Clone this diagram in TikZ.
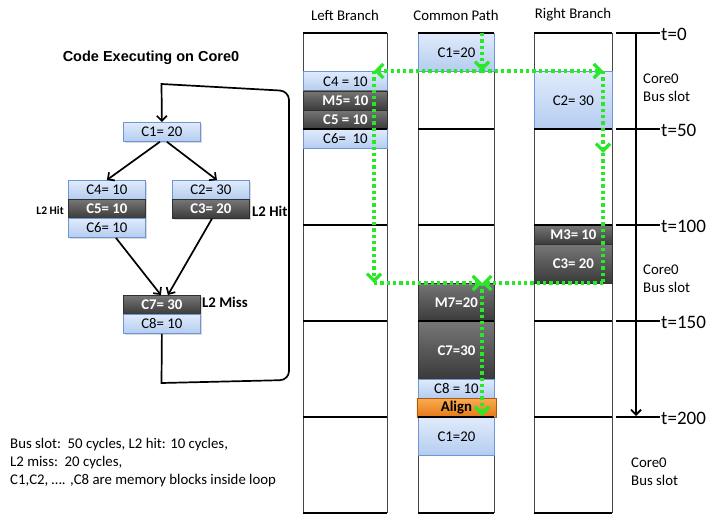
\documentclass[tikz,border=0pt]{standalone}
\usepackage{fontspec}
\setmainfont{Carlito}
\newfontfamily\titlefont{Liberation Sans}
\usetikzlibrary{arrows.meta,calc,shadows}

\definecolor{blkTop}{RGB}{224,235,251}
\definecolor{blkBot}{RGB}{180,204,240}
\definecolor{blkEdge}{RGB}{110,150,212}
\definecolor{dkTop}{RGB}{118,118,118}
\definecolor{dkBot}{RGB}{58,58,58}
\definecolor{dkEdge}{RGB}{48,48,48}
\definecolor{orTop}{RGB}{250,172,82}
\definecolor{orBot}{RGB}{228,120,22}
\definecolor{orEdge}{RGB}{170,90,10}
\definecolor{pathgreen}{RGB}{40,232,40}
\definecolor{colline}{RGB}{70,70,70}

\begin{document}
\begin{tikzpicture}[x=1pt,y=-1pt,
  font=\fontsize{14.8}{18}\selectfont,
  blk/.style={rectangle, inner sep=0pt, anchor=north west, minimum height=19.2pt,
    draw=blkEdge, line width=0.8pt, top color=blkTop, bottom color=blkBot},
  dk/.style={blk, draw=dkEdge, top color=dkTop, bottom color=dkBot, text=white,
    font=\fontsize{14.8}{18}\selectfont\bfseries},
  orng/.style={blk, draw=orEdge, top color=orTop, bottom color=orBot,
    font=\fontsize{14.8}{18}\selectfont\bfseries},
  boxshadow/.style={drop shadow={shadow xshift=1.2pt, shadow yshift=-1.5pt, opacity=0.3}},
  cfg/.style={blk, minimum width=77pt, minimum height=19pt, boxshadow},
  cfgdk/.style={dk, minimum width=77pt, minimum height=19pt, boxshadow},
  colside/.style={draw=colline, line width=0.8pt},
  slotline/.style={draw=black, line width=2.6pt},
  flow/.style={draw=black, line width=1.7pt, -{Straight Barb[length=5pt,width=10pt]}},
  gpath/.style={draw=pathgreen, line width=3.3pt, dash pattern=on 3.3pt off 3pt},
  garrow/.style={gpath, -{Straight Barb[length=7pt,width=14pt]}},
  lbl/.style={inner sep=0pt},
]
\useasboundingbox (0,0) rectangle (710,516);

% ---------------- control-flow graph of the loop ----------------
\node[lbl, font=\titlefont\fontsize{14.5}{18}\selectfont\bfseries] (title) at (151,58) {Code Executing on Core0};

\node[cfg]   (g1) at (123,122) {C1= 20};
\node[cfg]   (g4) at (68,180)  {C4= 10};
\node[cfgdk] (g5) at (68,199)  {C5= 10};
\node[cfg]   (g6) at (68,218)  {C6= 10};
\node[cfg]   (g2) at (172,180) {C2= 30};
\node[cfgdk] (g3) at (172,199) {C3= 20};
\node[cfgdk] (g7) at (123,295) {C7= 30};
\node[cfg]   (g8) at (123,314) {C8= 10};

\node[lbl, anchor=east, font=\fontsize{11.5}{14}\selectfont\bfseries] (hitL) at (64,211) {L2 Hit};
\node[lbl, anchor=west, font=\fontsize{14.8}{18}\selectfont\bfseries] (hitR) at (252,211) {L2 Hit};
\node[lbl, anchor=west, font=\fontsize{14.8}{18}\selectfont\bfseries] (miss) at (202,302) {L2 Miss};

\draw[flow] ($(g1.south)+(-2,0)$) -- (g4.north);
\draw[flow] ($(g1.south)+(5,0)$) -- ($(g2.north)+(6,0)$);
\draw[flow] ($(g6.south)+(9,0)$) -- ($(g7.north)+(-1,0)$);
\draw[flow] ($(g3.south)+(1,0)$) -- ($(g7.north)+(6,0)$);

% loop back edge
\coordinate (loopA) at (161.5,383);
\coordinate (loopB) at (289,380);
\coordinate (loopC) at (289,91);
\coordinate (loopD) at (161.5,84);
\draw[flow] (g8.south) -- (loopA) [rounded corners=9pt] -- (loopB) -- (loopC) [sharp corners] -- (loopD) -- (g1.north);

% ---------------- bus-slot columns ----------------
\node[lbl] (hLeft)  at (345,15) {Left Branch};
\node[lbl] (hCom)   at (456,15) {Common Path};
\node[lbl] (hRight) at (573,15) {Right Branch};

\foreach \xa/\xb in {303/387, 418/494, 534/612} {
  \draw[colside] (\xa,33) -- (\xa,513);
  \draw[colside] (\xb,33) -- (\xb,513);
}

% left branch
\node[blk, minimum width=84pt] (l4) at (303,71.4)  {C4 = 10};
\node[dk,  minimum width=84pt] (l5m) at (303,90.6) {M5= 10};
\node[dk,  minimum width=84pt] (l5) at (303,109.8) {C5 = 10};
\node[blk, minimum width=84pt] (l6) at (303,129)   {C6=~ 10};

% common path
\node[blk, minimum width=76pt, minimum height=38.4pt] (p1) at (418,33) {\raisebox{-2pt}{C1=20}};
\node[dk,  minimum width=76pt, minimum height=38.4pt] (p7m) at (418,282.6) {M7=20};
\node[dk,  minimum width=76pt, minimum height=57.6pt] (p7) at (418,321) {C7=30};
\node[blk, minimum width=76pt] (p8) at (418,378.6) {C8 = 10};
\node[orng, minimum width=79pt] (pal) at (416.5,397.8) {Align};
\node[blk, minimum width=76pt, minimum height=38.4pt] (p1b) at (418,417) {C1=20};

% right branch
\node[blk, minimum width=78pt, minimum height=57.6pt] (r2) at (534,71.4) {C2= 30};
\node[dk,  minimum width=78pt] (r3m) at (534,225) {M3= 10};
\node[dk,  minimum width=78pt, minimum height=38.4pt] (r3) at (534,244.2) {C3= 20};

% slot boundaries
\foreach \yy in {33,129,225,321,417,513} {
  \draw[slotline] (303,\yy) -- (387,\yy);
  \draw[slotline] (418,\yy) -- (494,\yy);
  \draw[slotline] (534,\yy) -- (612,\yy);
}

% ---------------- time axis ----------------
\coordinate (tlTop) at (636,33);
\coordinate (tlBot) at (636,416);
\draw[line width=1.8pt, -{Straight Barb[length=5pt,width=10pt]}] (tlTop) -- (tlBot);
\foreach \yy/\tt [count=\i] in {33/0,129/50,225/100,321/150,417/200} {
  \draw[slotline] (616,\yy) -- (660,\yy);
  \node[lbl, anchor=west, font=\fontsize{19}{22}\selectfont] (tl\i) at (661,\yy+1) {t=\tt};
}
\node[lbl, anchor=west, align=left] (bus1) at (643,88)  {Core0\\Bus slot};
\node[lbl, anchor=west, align=left] (bus2) at (643,279) {Core0\\Bus slot};
\node[lbl, anchor=west, align=left] (bus3) at (631,472) {Core0\\Bus slot};

% ---------------- execution path ----------------
\coordinate (gStart)    at (482,33);
\coordinate (gFork)     at (482,71);
\coordinate (gLeft)     at (374,71);
\coordinate (gRight)    at (603,71);
\coordinate (gLeftLow)  at (374,283);
\coordinate (gRightMid) at (603,153);
\coordinate (gRightLow) at (603,283);
\coordinate (gJoin)     at (482,283);
\coordinate (gEnd)      at (482,416);

\draw[garrow] (gStart) -- (gFork);
\draw[garrow] (gFork) -- (gLeft);
\draw[garrow] (gFork) -- (gRight);
\draw[garrow] (gLeft) -- (gLeftLow);
\draw[garrow] (gLeftLow) -- (gJoin);
\draw[garrow] (gRight) -- (gRightMid);
\draw[gpath] (gRightMid) -- (gRightLow);
\draw[garrow] (gRightLow) -- (gJoin);
\draw[garrow] (gJoin) -- (gEnd);

% ---------------- notes ----------------
\node[lbl, anchor=west, align=left] (notes) at (10,463)
  {Bus slot:\ \ 50 cycles, L2 hit: 10 cycles,\\
   L2 miss:\ \ 20 cycles,\\
   C1,C2, …. ,C8 are memory blocks inside loop};
\end{tikzpicture}
\end{document}
